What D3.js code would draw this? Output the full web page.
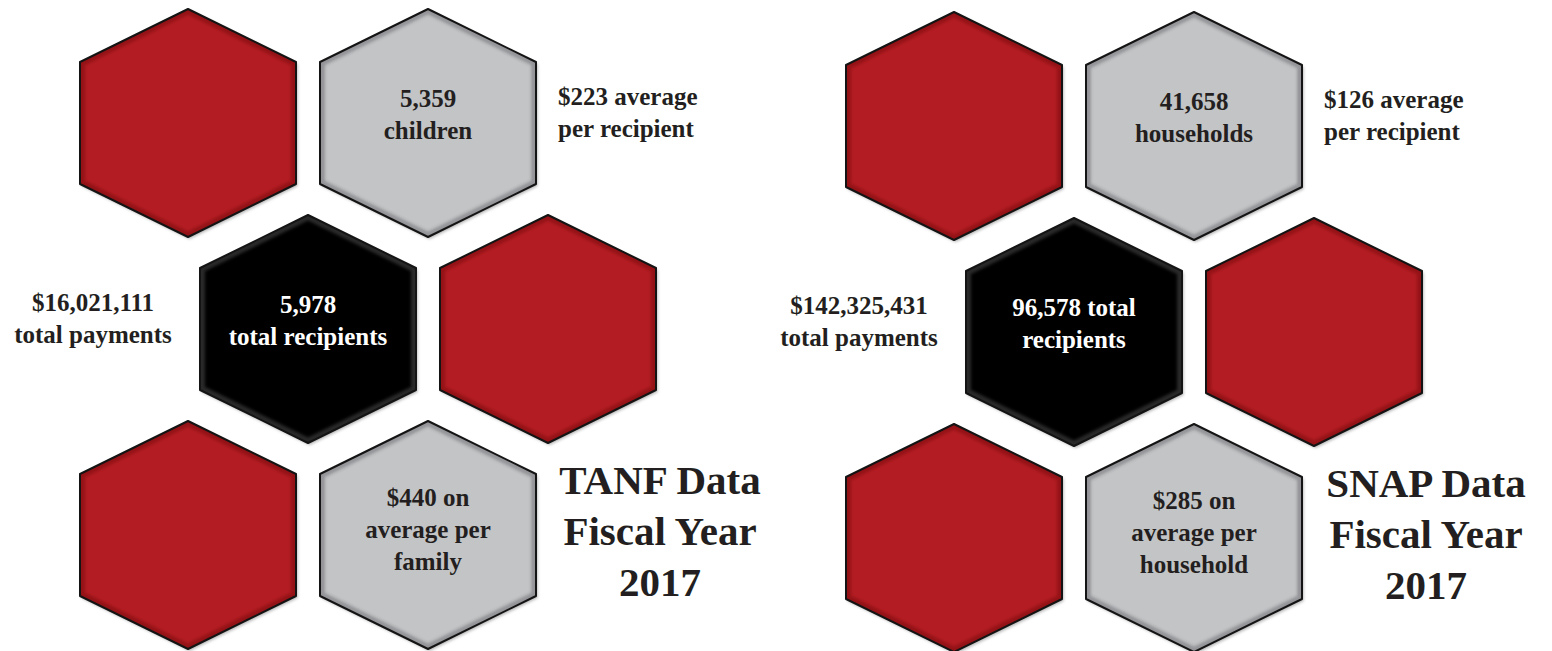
<!DOCTYPE html>
<html><head><meta charset="utf-8">
<script src="https://cdn.jsdelivr.net/npm/d3@7"></script>
<style>html,body{margin:0;padding:0;background:#fff;} svg{display:block;}</style>
</head><body><svg id="chart" width="1552" height="651"></svg>
<script>
// ---- data ----
const programs = ["TANF", "SNAP"];
const hexColumns = [0, 1, 0.5, 1.5, 0, 1];
const hexRows = [0, 0, 1, 1, 2, 2];
const hexKinds = ["red", "gray", "black", "red", "red", "gray"];
const tanfHexText = [[], ["5,359", "children"], ["5,978", "total recipients"], [], [], ["$440 on", "average per", "family"]];
const snapHexText = [[], ["41,658", "households"], ["96,578 total", "recipients"], [], [], ["$285 on", "average per", "household"]];
const tanfAverageLabel = ["$223 average", "per recipient"];
const snapAverageLabel = ["$126 average", "per recipient"];
const tanfPaymentsLabel = ["$16,021,111", "total payments"];
const snapPaymentsLabel = ["$142,325,431", "total payments"];
const tanfTitle = ["TANF Data", "Fiscal Year", "2017"];
const snapTitle = ["SNAP Data", "Fiscal Year", "2017"];

// ---- layout ----
const svg = d3.select("#chart");
const W = 1552, H = 651;
svg.append("rect").attr("width", W).attr("height", H).attr("fill", "#fff");

const xScales = [
  d3.scaleLinear().domain([0, 1]).range([188, 428]),
  d3.scaleLinear().domain([0, 1]).range([954, 1194])
];
const yScales = [
  d3.scaleLinear().domain([0, 2]).range([123, 535]),
  d3.scaleLinear().domain([0, 2]).range([126, 538])
];
const HW = 108, HR = 114, HS = 61;
const hexPts = [[0, -HR], [HW, -HS], [HW, HS], [0, HR], [-HW, HS], [-HW, -HS]];
const hexLine = d3.line().curve(d3.curveLinearClosed);

const defs = svg.append("defs");
const fills = { red: "#b31c23", gray: "#c3c4c6", black: "#040404" };
const bevels = { red: "rgba(90,5,10,0.35)", gray: "rgba(60,60,65,0.35)", black: "rgba(255,255,255,0.16)" };
const f = defs.append("filter").attr("id", "shadow").attr("x", "-10%").attr("y", "-10%").attr("width", "125%").attr("height", "125%");
f.append("feDropShadow").attr("dx", 1.5).attr("dy", 2).attr("stdDeviation", 1.6).attr("flood-color", "#000").attr("flood-opacity", 0.3);
const blur = defs.append("filter").attr("id", "soft");
blur.append("feGaussianBlur").attr("stdDeviation", 1.8);

const FONT = "'Liberation Serif', 'DejaVu Serif', serif";
const TEXT = "#231f20";
const LBL = 25, LH = 32, TTL = 41, TLH = 51;

function lines(g, arr, x, y0, lh, size, color, anchor) {
  const t = g.append("text").attr("x", x).attr("y", y0)
    .attr("text-anchor", anchor || "middle")
    .attr("font-family", FONT).attr("font-weight", "bold")
    .attr("font-size", size).attr("fill", color);
  arr.forEach((s, i) => t.append("tspan").attr("x", x).attr("y", y0 + i * lh).text(s));
}

const hexTexts = [tanfHexText, snapHexText];
const avgLabels = [tanfAverageLabel, snapAverageLabel];
const payLabels = [tanfPaymentsLabel, snapPaymentsLabel];
const titles = [tanfTitle, snapTitle];

programs.forEach((p, pi) => {
  const xs = xScales[pi], ys = yScales[pi];
  const g = svg.append("g").attr("class", "panel-" + p);
  const hexData = hexColumns.map((c, i) => ({ id: p + i, c, r: hexRows[i], kind: hexKinds[i], text: hexTexts[pi][i] }));
  const pathOf = d => hexLine(hexPts.map(([dx, dy]) => [xs(d.c) + dx, ys(d.r) + dy]));

  hexData.forEach(d => {
    defs.append("clipPath").attr("id", "clip-" + d.id).append("path").attr("d", pathOf(d));
  });

  const hg = g.selectAll("g.hex").data(hexData).join("g").attr("class", "hex");
  hg.append("path").attr("d", pathOf)
    .attr("fill", d => fills[d.kind])
    .attr("filter", "url(#shadow)");
  hg.append("path").attr("d", pathOf)
    .attr("fill", "none")
    .attr("stroke", d => bevels[d.kind]).attr("stroke-width", 10)
    .attr("filter", "url(#soft)")
    .attr("clip-path", d => "url(#clip-" + d.id + ")");
  hg.append("path").attr("d", pathOf)
    .attr("fill", "none")
    .attr("stroke", "#141414").attr("stroke-width", 2).attr("stroke-linejoin", "round");

  hexData.forEach(d => {
    const n = d.text.length;
    if (!n) return;
    const cx = xs(d.c), cy = ys(d.r);
    const off = n === 2 ? 0 : 3;
    lines(g, d.text, cx, cy + (0 - (n - 1) / 2) * LH + off, LH, LBL, d.kind === "black" ? "#fff" : TEXT);
  });

  // average label to the right of top gray hex
  const gx = xs(1) + HW + 22, gy = ys(0);
  lines(g, avgLabels[pi], gx, gy - 18, LH, LBL, TEXT, "start");

  // payments label left of black hex
  const bx = xs(0.5) - HW - 107, by = ys(1);
  lines(g, payLabels[pi], bx, by - 18, LH, LBL, TEXT, "middle");

  // title right of bottom gray hex
  const tx = xs(1.5) + 112, ty = ys(2);
  lines(g, titles[pi], tx, ty - 41, TLH, TTL, TEXT, "middle");
});
</script>
</body></html>
